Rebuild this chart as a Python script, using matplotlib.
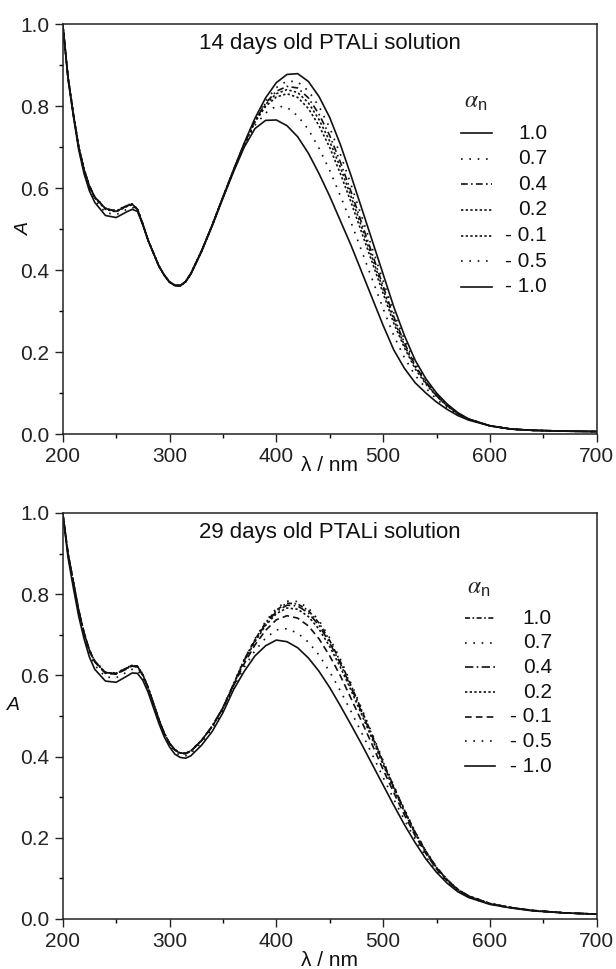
import matplotlib
matplotlib.use('Agg')
import matplotlib.pyplot as plt
from matplotlib.ticker import MultipleLocator

plt.rcParams['font.family'] = ['Liberation Sans', 'DejaVu Sans']
plt.rcParams['mathtext.fontset'] = 'stix'

# wavelength grid (nm)
wl = [200, 205, 210, 215, 220, 225, 230, 240, 250, 260, 265, 270, 275, 280, 290, 295, 300, 305, 310, 315,
      320, 330, 340, 350, 360, 370, 380, 390, 400, 410, 420, 430, 440, 450, 460, 470, 480, 490, 500, 510,
      520, 530, 540, 550, 560, 570, 580, 600, 620, 640, 670, 700]

alpha_labels = ['1.0', '0.7', '0.4', '0.2', '- 0.1', '- 0.5', '- 1.0']

# 14 days old solution
d14_p10 = [1.00, 0.87, 0.78, 0.70, 0.645, 0.605, 0.578, 0.550, 0.543, 0.556, 0.561, 0.548, 0.512, 0.472, 0.410, 0.388, 0.371, 0.363, 0.362, 0.372,
           0.392, 0.447, 0.510, 0.578, 0.645, 0.710, 0.770, 0.820, 0.857, 0.877, 0.879, 0.860, 0.823, 0.772, 0.706, 0.630, 0.550, 0.470, 0.390, 0.310,
           0.240, 0.180, 0.135, 0.100, 0.073, 0.052, 0.037, 0.020, 0.012, 0.009, 0.007, 0.006]
d14_p07 = [1.00, 0.87, 0.78, 0.70, 0.646, 0.606, 0.579, 0.551, 0.545, 0.558, 0.562, 0.549, 0.513, 0.473, 0.410, 0.388, 0.371, 0.363, 0.362, 0.372,
           0.392, 0.447, 0.510, 0.578, 0.644, 0.709, 0.767, 0.813, 0.845, 0.861, 0.859, 0.837, 0.799, 0.747, 0.682, 0.608, 0.530, 0.452, 0.374, 0.296,
           0.230, 0.173, 0.130, 0.097, 0.071, 0.051, 0.037, 0.020, 0.012, 0.009, 0.007, 0.006]
d14_p04 = [1.00, 0.87, 0.78, 0.70, 0.645, 0.605, 0.578, 0.550, 0.544, 0.557, 0.561, 0.548, 0.512, 0.472, 0.410, 0.388, 0.371, 0.363, 0.362, 0.371,
           0.391, 0.446, 0.509, 0.577, 0.644, 0.708, 0.764, 0.807, 0.836, 0.848, 0.844, 0.820, 0.780, 0.728, 0.663, 0.591, 0.514, 0.438, 0.361, 0.286,
           0.222, 0.167, 0.127, 0.095, 0.070, 0.050, 0.036, 0.020, 0.012, 0.009, 0.007, 0.006]
d14_p02 = [1.00, 0.87, 0.78, 0.70, 0.644, 0.604, 0.577, 0.549, 0.543, 0.556, 0.560, 0.548, 0.512, 0.472, 0.410, 0.388, 0.371, 0.363, 0.362, 0.371,
           0.391, 0.446, 0.509, 0.577, 0.643, 0.707, 0.763, 0.804, 0.830, 0.840, 0.833, 0.808, 0.767, 0.714, 0.650, 0.579, 0.504, 0.428, 0.353, 0.279,
           0.216, 0.164, 0.125, 0.093, 0.069, 0.050, 0.036, 0.020, 0.012, 0.009, 0.007, 0.006]
d14_m01 = [1.00, 0.87, 0.78, 0.70, 0.644, 0.603, 0.576, 0.548, 0.542, 0.555, 0.559, 0.547, 0.511, 0.472, 0.410, 0.388, 0.371, 0.363, 0.362, 0.371,
           0.391, 0.446, 0.509, 0.577, 0.643, 0.706, 0.761, 0.799, 0.822, 0.830, 0.821, 0.794, 0.752, 0.699, 0.635, 0.565, 0.491, 0.417, 0.343, 0.270,
           0.210, 0.159, 0.122, 0.092, 0.068, 0.049, 0.036, 0.020, 0.012, 0.009, 0.007, 0.006]
d14_m05 = [1.00, 0.868, 0.777, 0.697, 0.640, 0.598, 0.570, 0.540, 0.535, 0.548, 0.553, 0.546, 0.511, 0.472, 0.410, 0.388, 0.370, 0.362, 0.361, 0.371,
           0.391, 0.446, 0.509, 0.577, 0.642, 0.703, 0.753, 0.783, 0.800, 0.797, 0.776, 0.743, 0.697, 0.643, 0.581, 0.516, 0.446, 0.376, 0.306, 0.240,
           0.186, 0.143, 0.112, 0.085, 0.064, 0.047, 0.035, 0.020, 0.012, 0.009, 0.007, 0.006]
d14_m10 = [1.00, 0.865, 0.775, 0.693, 0.635, 0.593, 0.565, 0.533, 0.528, 0.542, 0.548, 0.543, 0.510, 0.472, 0.410, 0.387, 0.370, 0.362, 0.361, 0.371,
           0.390, 0.445, 0.508, 0.575, 0.640, 0.700, 0.745, 0.765, 0.766, 0.752, 0.725, 0.685, 0.635, 0.580, 0.520, 0.460, 0.395, 0.330, 0.265, 0.205,
           0.160, 0.125, 0.100, 0.078, 0.060, 0.045, 0.034, 0.020, 0.012, 0.009, 0.007, 0.006]

# 29 days old solution
d29_p10 = [1.00, 0.90, 0.83, 0.76, 0.705, 0.662, 0.635, 0.607, 0.605, 0.618, 0.625, 0.622, 0.602, 0.570, 0.492, 0.458, 0.433, 0.417, 0.409, 0.408,
           0.414, 0.440, 0.475, 0.520, 0.579, 0.639, 0.688, 0.730, 0.761, 0.778, 0.776, 0.760, 0.729, 0.686, 0.634, 0.575, 0.514, 0.451, 0.387, 0.326,
           0.268, 0.214, 0.167, 0.127, 0.097, 0.073, 0.057, 0.038, 0.028, 0.021, 0.015, 0.012]
d29_p07 = [1.00, 0.90, 0.83, 0.76, 0.706, 0.663, 0.636, 0.608, 0.606, 0.619, 0.626, 0.623, 0.603, 0.570, 0.492, 0.458, 0.433, 0.417, 0.409, 0.408,
           0.414, 0.440, 0.475, 0.521, 0.580, 0.640, 0.690, 0.733, 0.765, 0.783, 0.782, 0.766, 0.735, 0.692, 0.640, 0.580, 0.518, 0.455, 0.390, 0.328,
           0.270, 0.215, 0.168, 0.128, 0.097, 0.073, 0.057, 0.038, 0.028, 0.021, 0.015, 0.012]
d29_p04 = [1.00, 0.90, 0.83, 0.76, 0.705, 0.662, 0.635, 0.607, 0.605, 0.618, 0.625, 0.622, 0.602, 0.570, 0.492, 0.458, 0.433, 0.417, 0.409, 0.408,
           0.414, 0.440, 0.475, 0.520, 0.578, 0.637, 0.686, 0.727, 0.757, 0.773, 0.771, 0.754, 0.723, 0.680, 0.629, 0.570, 0.509, 0.448, 0.384, 0.323,
           0.266, 0.212, 0.166, 0.127, 0.096, 0.072, 0.057, 0.038, 0.028, 0.021, 0.015, 0.012]
d29_p02 = [1.00, 0.90, 0.83, 0.76, 0.704, 0.661, 0.634, 0.606, 0.604, 0.617, 0.624, 0.621, 0.601, 0.569, 0.492, 0.458, 0.433, 0.417, 0.409, 0.408,
           0.414, 0.440, 0.475, 0.520, 0.577, 0.635, 0.683, 0.723, 0.752, 0.766, 0.763, 0.745, 0.714, 0.671, 0.620, 0.563, 0.503, 0.442, 0.380, 0.320,
           0.264, 0.210, 0.165, 0.126, 0.095, 0.072, 0.056, 0.038, 0.028, 0.021, 0.015, 0.012]
d29_m01 = [1.00, 0.90, 0.83, 0.76, 0.704, 0.660, 0.633, 0.605, 0.603, 0.616, 0.623, 0.620, 0.600, 0.569, 0.491, 0.457, 0.432, 0.416, 0.408, 0.407,
           0.413, 0.439, 0.474, 0.519, 0.575, 0.629, 0.675, 0.711, 0.737, 0.747, 0.741, 0.722, 0.690, 0.648, 0.599, 0.543, 0.486, 0.428, 0.368, 0.311,
           0.256, 0.205, 0.161, 0.123, 0.094, 0.071, 0.056, 0.037, 0.028, 0.021, 0.015, 0.012]
d29_m05 = [1.00, 0.895, 0.822, 0.752, 0.697, 0.653, 0.625, 0.596, 0.594, 0.608, 0.615, 0.613, 0.595, 0.564, 0.487, 0.453, 0.428, 0.411, 0.403, 0.402,
           0.408, 0.435, 0.469, 0.514, 0.570, 0.620, 0.661, 0.692, 0.712, 0.715, 0.704, 0.682, 0.650, 0.609, 0.562, 0.511, 0.458, 0.404, 0.349, 0.295,
           0.244, 0.197, 0.154, 0.119, 0.091, 0.069, 0.054, 0.036, 0.027, 0.020, 0.015, 0.012]
d29_m10 = [1.00, 0.89, 0.815, 0.745, 0.690, 0.645, 0.615, 0.586, 0.583, 0.598, 0.606, 0.605, 0.588, 0.558, 0.482, 0.449, 0.424, 0.406, 0.398, 0.396,
           0.402, 0.428, 0.462, 0.508, 0.565, 0.610, 0.648, 0.673, 0.687, 0.683, 0.668, 0.643, 0.610, 0.570, 0.525, 0.478, 0.430, 0.380, 0.330, 0.280,
           0.232, 0.188, 0.148, 0.115, 0.088, 0.067, 0.053, 0.036, 0.027, 0.020, 0.015, 0.012]

series14 = [d14_p10, d14_p07, d14_p04, d14_p02, d14_m01, d14_m05, d14_m10]
series29 = [d29_p10, d29_p07, d29_p04, d29_p02, d29_m01, d29_m05, d29_m10]

sparse = (0, (1, 4))
dense = (0, (1.4, 1.4))
styles14 = ['-', sparse, (0, (4, 2, 1, 2)), dense, dense, sparse, '-']
styles29 = [(0, (3, 1.5, 1, 1.5)), sparse, (0, (5, 2, 1, 2)), dense, (0, (4, 2.5)), sparse, '-']

fig = plt.figure(figsize=(6.16, 9.69), dpi=100)
ax1 = fig.add_axes([0.1018, 0.5521, 0.8669, 0.4231])
ax2 = fig.add_axes([0.1018, 0.0516, 0.8669, 0.419])


def draw_panel(ax, series, styles, title, leg_x, leg_top, leg_step, lab_x, xlab_y):
    for s, ls in zip(series, styles):
        ax.plot(wl, s, color='#111111', linestyle=ls, linewidth=1.2)
    ax.set_xlim(200, 700)
    ax.set_ylim(0, 1.0)
    ax.xaxis.set_major_locator(MultipleLocator(100))
    ax.xaxis.set_minor_locator(MultipleLocator(50))
    ax.yaxis.set_major_locator(MultipleLocator(0.2))
    ax.yaxis.set_minor_locator(MultipleLocator(0.1))
    ax.tick_params(which='major', direction='out', length=5.5, width=1.0, labelsize=15, pad=4, colors='#222222')
    ax.tick_params(which='minor', direction='out', length=3, width=1.0)
    for sp in ax.spines.values():
        sp.set_linewidth(1.1)
        sp.set_color('#222222')
    ax.text(0.5, 0.952, title, transform=ax.transAxes, ha='center', va='center', fontsize=16, color='#111111')
    ax.text(0.5, xlab_y, 'λ / nm', transform=ax.transAxes, ha='center', va='center', fontsize=15, color='#111111')
    # legend
    ax.text(leg_x + 0.005, leg_top + 0.075, r'$\alpha_\mathregular{n}$', transform=ax.transAxes,
            ha='left', va='center', fontsize=17, color='#222222')
    for i, (lab, ls) in enumerate(zip(alpha_labels, styles)):
        y = leg_top - i * leg_step
        ax.plot([leg_x, leg_x + 0.057], [y, y], transform=ax.transAxes, color='#111111',
                linestyle=ls, linewidth=1.2, clip_on=False)
        ax.text(lab_x, y, lab, transform=ax.transAxes, ha='right', va='center', fontsize=15, color='#111111')


draw_panel(ax1, series14, styles14, '14 days old PTALi solution', 0.746, 0.734, 0.0625, 0.907, -0.076)
draw_panel(ax2, series29, styles29, '29 days old PTALi solution', 0.753, 0.741, 0.0607, 0.916, -0.103)

fig.text(0.040, 0.764, 'A', rotation=90, ha='center', va='center', fontsize=14, style='italic', color='#111111')
fig.text(0.022, 0.272, 'A', ha='center', va='center', fontsize=14, style='italic', color='#111111')

fig.savefig('out.png', dpi=100)
